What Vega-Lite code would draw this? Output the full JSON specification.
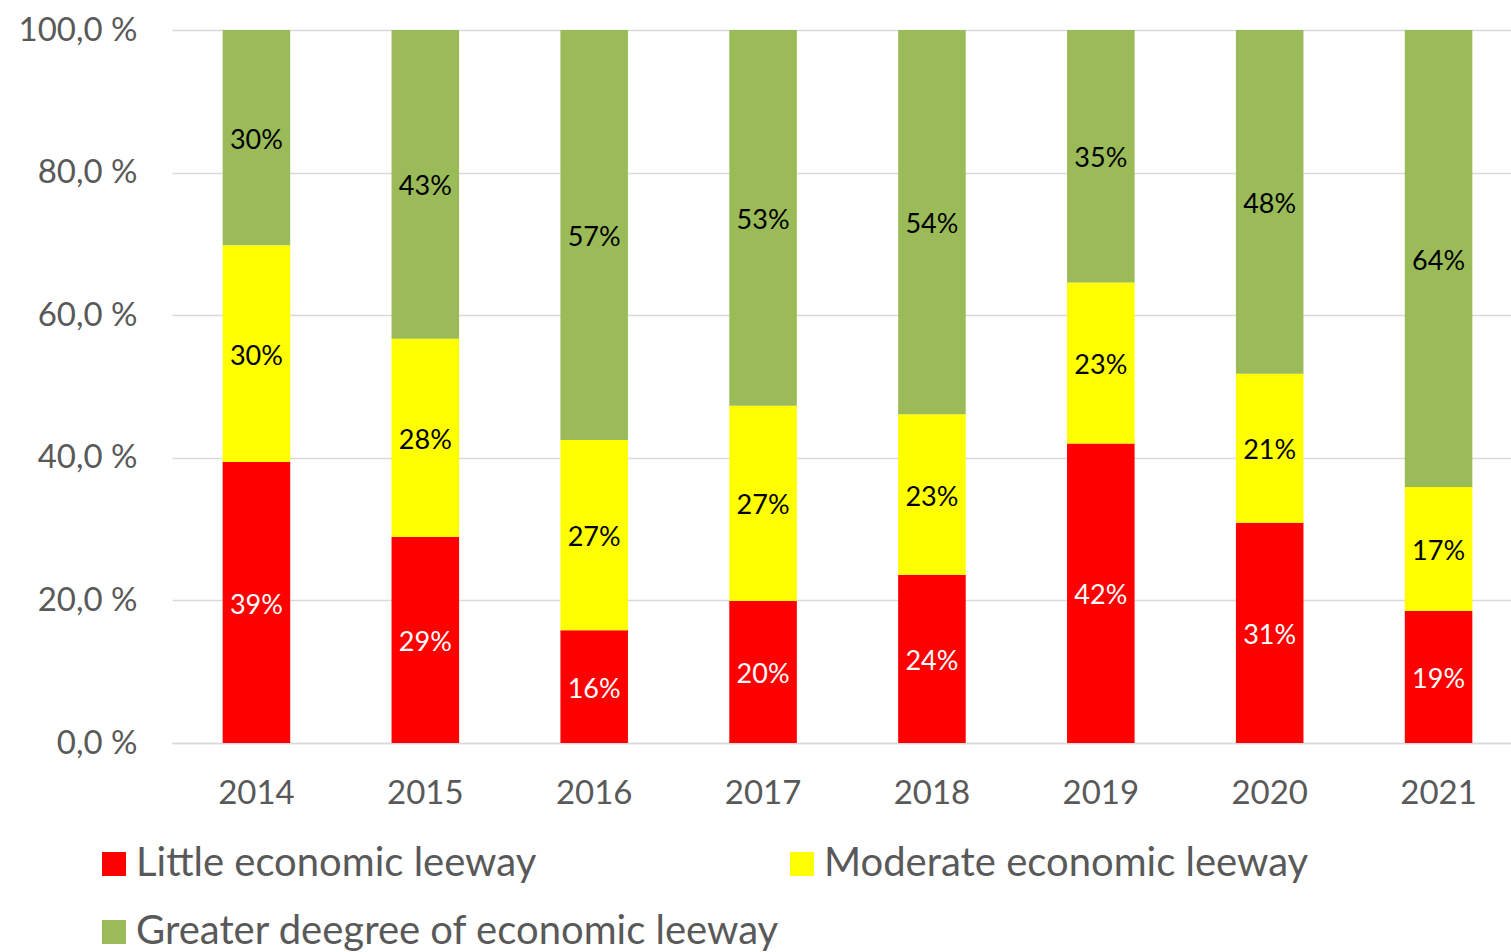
{
  "$schema": "https://vega.github.io/schema/vega-lite/v6.json",
  "width": 1351,
  "height": 713,
  "autosize": {"type": "none"},
  "padding": {"left": 172, "top": 30, "right": 0, "bottom": 209},
  "background": "white",
  "config": {
    "view": {"stroke": null},
    "font": "Lato",
    "axis": {"labelFont": "Lato", "labelColor": "#595959", "gridColor": "#D9D9D9", "gridWidth": 1.5, "domainColor": "#D9D9D9", "domainWidth": 1.5, "ticks": false, "title": null}
  },
  "data": {
    "values": [
      {"year": "2014", "cat": "Little economic leeway", "v": 0.394},
      {"year": "2014", "cat": "Moderate economic leeway", "v": 0.304},
      {"year": "2014", "cat": "Greater deegree of economic leeway", "v": 0.302},
      {"year": "2015", "cat": "Little economic leeway", "v": 0.289},
      {"year": "2015", "cat": "Moderate economic leeway", "v": 0.278},
      {"year": "2015", "cat": "Greater deegree of economic leeway", "v": 0.433},
      {"year": "2016", "cat": "Little economic leeway", "v": 0.158},
      {"year": "2016", "cat": "Moderate economic leeway", "v": 0.267},
      {"year": "2016", "cat": "Greater deegree of economic leeway", "v": 0.575},
      {"year": "2017", "cat": "Little economic leeway", "v": 0.199},
      {"year": "2017", "cat": "Moderate economic leeway", "v": 0.274},
      {"year": "2017", "cat": "Greater deegree of economic leeway", "v": 0.527},
      {"year": "2018", "cat": "Little economic leeway", "v": 0.236},
      {"year": "2018", "cat": "Moderate economic leeway", "v": 0.225},
      {"year": "2018", "cat": "Greater deegree of economic leeway", "v": 0.539},
      {"year": "2019", "cat": "Little economic leeway", "v": 0.420},
      {"year": "2019", "cat": "Moderate economic leeway", "v": 0.226},
      {"year": "2019", "cat": "Greater deegree of economic leeway", "v": 0.354},
      {"year": "2020", "cat": "Little economic leeway", "v": 0.309},
      {"year": "2020", "cat": "Moderate economic leeway", "v": 0.209},
      {"year": "2020", "cat": "Greater deegree of economic leeway", "v": 0.482},
      {"year": "2021", "cat": "Little economic leeway", "v": 0.185},
      {"year": "2021", "cat": "Moderate economic leeway", "v": 0.174},
      {"year": "2021", "cat": "Greater deegree of economic leeway", "v": 0.641}
    ]
  },
  "transform": [
    {"calculate": "indexof(['Little economic leeway','Moderate economic leeway','Greater deegree of economic leeway'], datum.cat)", "as": "ord"},
    {"stack": "v", "groupby": ["year"], "sort": [{"field": "ord", "order": "ascending"}], "as": ["v0", "v1"]},
    {"calculate": "(datum.v0 + datum.v1) / 2", "as": "mid"}
  ],
  "encoding": {
    "x": {
      "field": "year", "type": "ordinal",
      "scale": {"paddingInner": 0.6, "paddingOuter": 0.3},
      "axis": {"labelAngle": 0, "labelFontSize": 33, "labelPadding": 34, "grid": false, "domain": true}
    }
  },
  "layer": [
    {
      "mark": {"type": "bar"},
      "encoding": {
        "y": {
          "field": "v0", "type": "quantitative",
          "scale": {"domain": [0, 1], "nice": false},
          "axis": {"values": [0, 0.2, 0.4, 0.6, 0.8, 1], "labelExpr": "replace(format(datum.value * 100, '.1f'), '.', ',') + ' %'", "labelFontSize": 33, "labelPadding": 35, "domain": false, "grid": true}
        },
        "y2": {"field": "v1"},
        "color": {
          "field": "cat", "type": "nominal",
          "scale": {"domain": ["Little economic leeway", "Moderate economic leeway", "Greater deegree of economic leeway"], "range": ["#FF0000", "#FFFF00", "#9BBB59"]},
          "legend": {
            "title": null, "orient": "none", "legendX": -78, "legendY": 814,
            "columns": 2, "columnPadding": 2, "rowPadding": 28,
            "symbolType": "square", "symbolSize": 576, "symbolStrokeWidth": 0,
            "labelFontSize": 40, "labelColor": "#595959", "labelOffset": 2, "labelLimit": 900,
            "direction": "horizontal"
          }
        }
      }
    },
    {
      "mark": {"type": "text", "fontSize": 27, "baseline": "middle", "align": "center", "dy": 3},
      "encoding": {
        "y": {"field": "mid", "type": "quantitative"},
        "text": {"field": "v", "type": "quantitative", "format": ".0%"},
        "color": {
          "condition": {"test": "datum.cat === 'Little economic leeway'", "value": "white"},
          "value": "black"
        }
      }
    }
  ]
}
